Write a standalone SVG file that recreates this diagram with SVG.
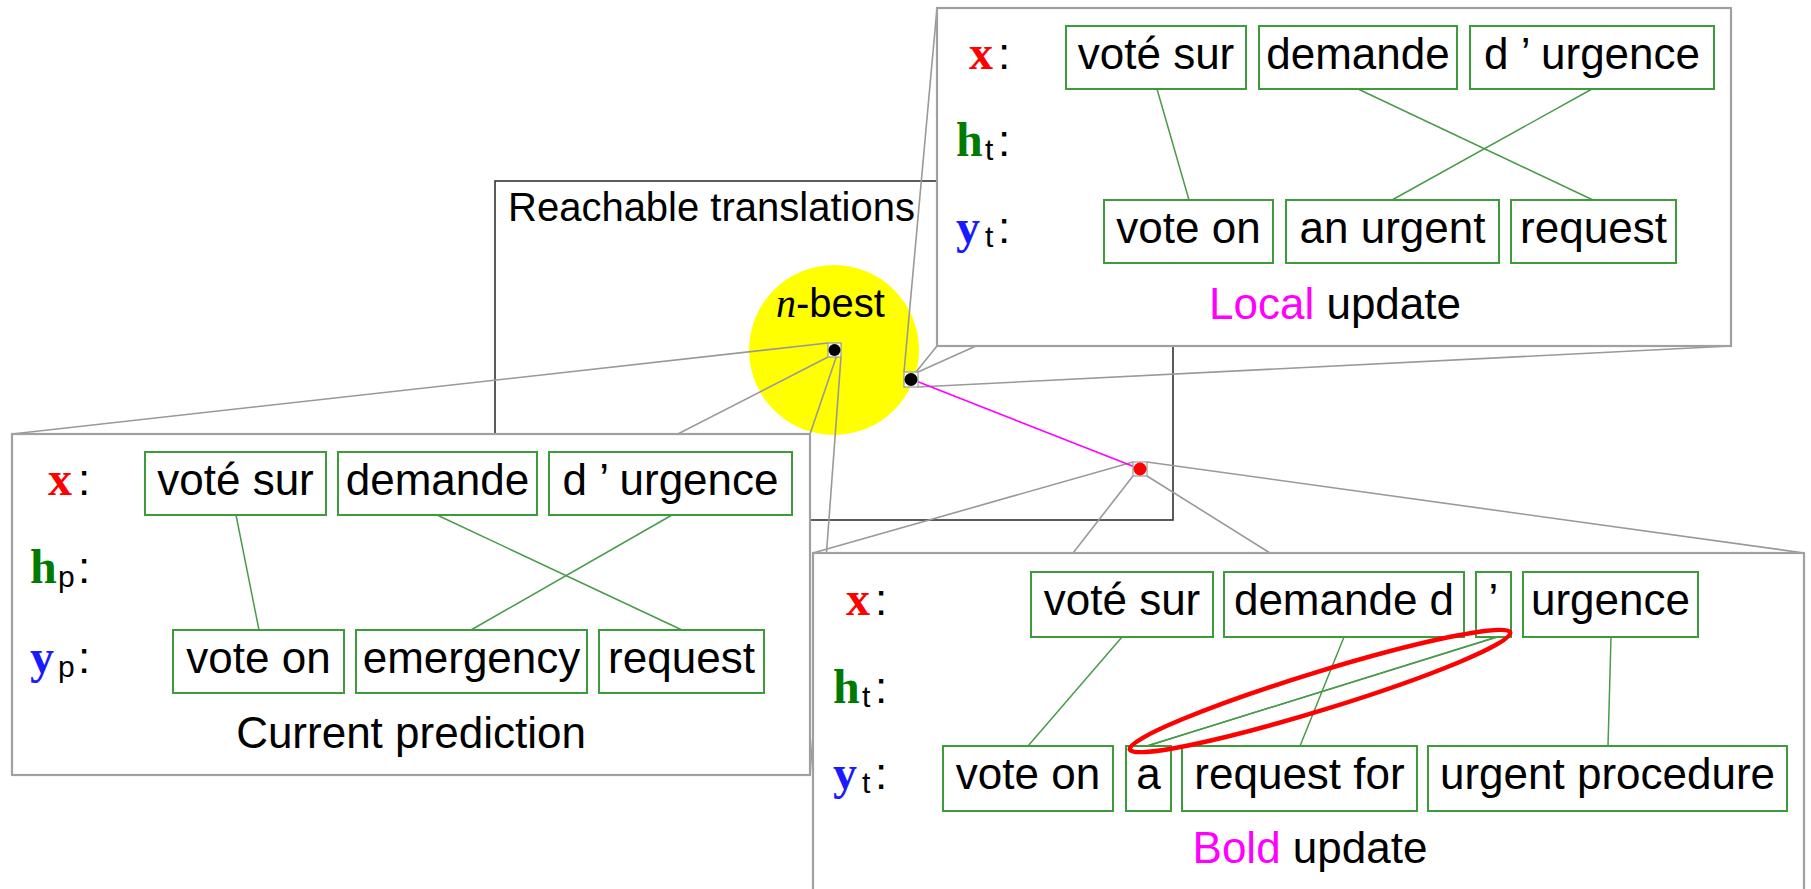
<svg xmlns="http://www.w3.org/2000/svg" width="1811" height="889" viewBox="0 0 1811 889">
<style>
.sans{font-family:"Liberation Sans",Arial,sans-serif;}
.wt{font-family:"Liberation Sans",Arial,sans-serif;font-size:44px;fill:#000;text-anchor:middle;}
.cap{font-family:"Liberation Sans",Arial,sans-serif;font-size:44px;fill:#000;text-anchor:middle;}
.wb{fill:#fff;stroke:#3c9c3c;stroke-width:2;}
.al{stroke:#4a9a4a;stroke-width:1.5;fill:none;}
.zl{stroke:#999;stroke-width:1.6;fill:none;}
.zb{fill:#fff;stroke:#a0a0a0;stroke-width:2.2;}
.mx{font-family:"Liberation Serif","Times New Roman",serif;font-weight:bold;font-size:48px;}
.sub{font-family:"Liberation Sans",Arial,sans-serif;font-size:30px;fill:#000;}
.col{font-family:"Liberation Sans",Arial,sans-serif;font-size:44px;fill:#000;}
.mag{fill:#ff00ff;}
</style>

<g id="reachable">
<rect x="495" y="181" width="678" height="339" fill="none" stroke="#333" stroke-width="1.6"/>
<text x="508" y="221" class="sans" font-size="40" fill="#000">Reachable translations</text>
</g>

<g id="nbest">
<circle cx="834" cy="350" r="85" fill="#ffff00"/>
<text x="776" y="317" font-size="40" fill="#000"><tspan font-family="Liberation Serif,serif" font-style="italic">n</tspan><tspan class="sans">-best</tspan></text>
</g>

<g id="connectors">
<line class="zl" x1="828" y1="343" x2="12" y2="434"/>
<line class="zl" x1="841" y1="343" x2="810" y2="434"/>
<line class="zl" x1="828" y1="357" x2="12" y2="775"/>
<line class="zl" x1="841" y1="357" x2="810" y2="775"/>
<line class="zl" x1="904" y1="372" x2="937" y2="8"/>
<line class="zl" x1="918" y1="372" x2="1731" y2="8"/>
<line class="zl" x1="904" y1="387" x2="937" y2="346"/>
<line class="zl" x1="918" y1="387" x2="1731" y2="346"/>
<line class="zl" x1="1133" y1="462" x2="813" y2="553"/>
<line class="zl" x1="1147" y1="462" x2="1804" y2="553"/>
<line class="zl" x1="1133" y1="476" x2="813" y2="887"/>
<line class="zl" x1="1147" y1="476" x2="1804" y2="887"/>
<line x1="911" y1="379" x2="1140" y2="469" stroke="#ff00ff" stroke-width="1.6"/>
</g>

<g id="dot-nbest">
<rect x="828" y="343" width="13" height="14" fill="#fff" stroke="#999" stroke-width="1.2"/>
<circle cx="834.5" cy="350" r="6" fill="#000"/>
</g>
<g id="dot-local">
<rect x="904" y="372" width="14" height="15" fill="#fff" stroke="#999" stroke-width="1.2"/>
<circle cx="911" cy="379.5" r="6.5" fill="#000"/>
</g>
<g id="dot-bold">
<rect x="1133" y="462" width="14" height="14" fill="#fff" stroke="#999" stroke-width="1.2"/>
<circle cx="1140" cy="469" r="6.5" fill="#ff0000"/>
</g>

<g id="current-prediction">
<rect class="zb" x="12" y="434" width="798" height="341"/>
<text x="48" y="495" class="mx" fill="#ff0000">x</text><text x="78" y="495" class="col">:</text>
<text x="30" y="583" class="mx" fill="#007a00">h</text><text x="58" y="587" class="sub">p</text><text x="78" y="583" class="col">:</text>
<text x="30" y="673" class="mx" fill="#1a1aff">y</text><text x="58" y="677" class="sub">p</text><text x="78" y="673" class="col">:</text>
<line class="al" x1="236" y1="515" x2="259" y2="630"/>
<line class="al" x1="437" y1="515" x2="682" y2="630"/>
<line class="al" x1="672" y1="515" x2="471" y2="630"/>
<rect class="wb" x="145" y="452" width="181" height="63"/><text class="wt" x="235.5" y="495">voté sur</text>
<rect class="wb" x="338" y="452" width="199" height="63"/><text class="wt" x="437.5" y="495">demande</text>
<rect class="wb" x="549" y="452" width="243" height="63"/><text class="wt" x="670.5" y="495">d ’ urgence</text>
<rect class="wb" x="173" y="630" width="171" height="63"/><text class="wt" x="258.5" y="673">vote on</text>
<rect class="wb" x="356" y="630" width="231" height="63"/><text class="wt" x="471.5" y="673">emergency</text>
<rect class="wb" x="599" y="630" width="165" height="63"/><text class="wt" x="681.5" y="673">request</text>
<text class="cap" x="411" y="748">Current prediction</text>
</g>

<g id="local-update">
<rect class="zb" x="937" y="8" width="794" height="338"/>
<text x="969" y="69" class="mx" fill="#ff0000">x</text><text x="998" y="69" class="col">:</text>
<text x="956" y="156" class="mx" fill="#007a00">h</text><text x="985" y="160" class="sub">t</text><text x="998" y="156" class="col">:</text>
<text x="956" y="243" class="mx" fill="#1a1aff">y</text><text x="985" y="247" class="sub">t</text><text x="998" y="243" class="col">:</text>
<line class="al" x1="1157" y1="89" x2="1189" y2="200"/>
<line class="al" x1="1358" y1="89" x2="1593" y2="200"/>
<line class="al" x1="1592" y1="89" x2="1392" y2="200"/>
<rect class="wb" x="1066" y="26" width="180" height="63"/><text class="wt" x="1156" y="69">voté sur</text>
<rect class="wb" x="1259" y="26" width="198" height="63"/><text class="wt" x="1358" y="69">demande</text>
<rect class="wb" x="1470" y="26" width="244" height="63"/><text class="wt" x="1592" y="69">d ’ urgence</text>
<rect class="wb" x="1104" y="200" width="169" height="63"/><text class="wt" x="1188.5" y="243">vote on</text>
<rect class="wb" x="1286" y="200" width="213" height="63"/><text class="wt" x="1392.5" y="243">an urgent</text>
<rect class="wb" x="1511" y="200" width="165" height="63"/><text class="wt" x="1593.5" y="243">request</text>
<text class="cap" x="1335" y="319"><tspan class="mag">Local</tspan> update</text>
</g>

<g id="bold-update">
<rect class="zb" x="813" y="553" width="991" height="345"/>
<text x="846" y="615" class="mx" fill="#ff0000">x</text><text x="875" y="615" class="col">:</text>
<text x="833" y="703" class="mx" fill="#007a00">h</text><text x="862" y="707" class="sub">t</text><text x="875" y="703" class="col">:</text>
<text x="833" y="789" class="mx" fill="#1a1aff">y</text><text x="862" y="793" class="sub">t</text><text x="875" y="789" class="col">:</text>
<line class="al" x1="1122" y1="637" x2="1028" y2="746"/>
<line class="al" x1="1344" y1="637" x2="1300" y2="746"/>
<line class="al" x1="1497" y1="637" x2="1147" y2="746"/>
<line class="al" x1="1611" y1="637" x2="1608" y2="746"/>
<rect class="wb" x="1031" y="572" width="182" height="65"/><text class="wt" x="1122" y="615">voté sur</text>
<rect class="wb" x="1224" y="572" width="240" height="65"/><text class="wt" x="1344" y="615">demande d</text>
<rect class="wb" x="1476" y="572" width="35" height="65"/><text class="wt" x="1493.5" y="615">’</text>
<rect class="wb" x="1523" y="572" width="175" height="65"/><text class="wt" x="1610.5" y="615">urgence</text>
<rect class="wb" x="943" y="746" width="170" height="65"/><text class="wt" x="1028" y="789">vote on</text>
<rect class="wb" x="1126" y="746" width="45" height="65"/><text class="wt" x="1148.5" y="789">a</text>
<rect class="wb" x="1182" y="746" width="235" height="65"/><text class="wt" x="1299.5" y="789">request for</text>
<rect class="wb" x="1428" y="746" width="359" height="65"/><text class="wt" x="1607.5" y="789">urgent procedure</text>
<line class="al" x1="1497" y1="637" x2="1147" y2="746"/>
<ellipse cx="1320" cy="691" rx="199" ry="19" transform="rotate(-17.1 1320 691)" fill="none" stroke="#ff0000" stroke-width="4.5"/>
<text class="cap" x="1310" y="863"><tspan class="mag">Bold</tspan> update</text>
</g>
</svg>
